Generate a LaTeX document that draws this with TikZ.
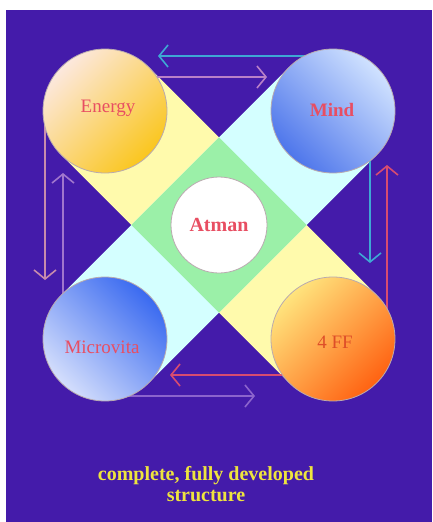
\documentclass[tikz,border=0pt]{standalone}
\usepackage{fontspec}
\setmainfont{Liberation Serif}
\usetikzlibrary{arrows.meta}
\definecolor{bgpurple}{RGB}{68,27,170}
\definecolor{bandyellow}{RGB}{255,250,172}
\definecolor{bandcyan}{RGB}{212,255,255}
\definecolor{bandgreen}{RGB}{155,240,168}
\definecolor{rimgray}{RGB}{185,170,175}
\definecolor{lblred}{RGB}{232,78,98}
\definecolor{lblorange}{RGB}{222,78,40}
\definecolor{capyellow}{RGB}{238,228,62}
\definecolor{arrcyan}{RGB}{62,168,212}
\definecolor{arrmauve}{RGB}{185,128,200}
\definecolor{arrred}{RGB}{216,76,112}
\definecolor{arrpink}{RGB}{200,140,172}
\definecolor{arrviolet}{RGB}{160,118,205}
\definecolor{arrlilac}{RGB}{140,100,205}
\begin{document}
\begin{tikzpicture}[x=1pt,y=-1pt,
  band/.style={line width=124pt},
  ball/.style={circle, minimum size=124pt, inner sep=0pt, draw=rimgray, line width=0.8pt},
  lbl/.style={font=\fontsize{19}{22}\selectfont, text=lblred},
  conn/.style={line width=1.6pt, -{Straight Barb[length=9pt,width=22pt]}}]
\useasboundingbox (0,0) rectangle (432,522);
\fill[white] (0,0) rectangle (432,522);
\fill[bgpurple] (6,10) rectangle (432,522);
% centres
\coordinate (pE) at (105,111);
\coordinate (pM) at (333,111);
\coordinate (pV) at (105,339);
\coordinate (pF) at (333,339);
\coordinate (pA) at (219,225);
% bands
\draw[band, bandyellow] (pE) -- (pF);
\draw[band, bandcyan] (pM) -- (pV);
\fill[bandgreen] (pA) ++(0,-87.68) -- ++(87.68,87.68) -- ++(-87.68,87.68) -- ++(-87.68,-87.68) -- cycle;
% arrow end points
\coordinate (a1s) at (312,56);  \coordinate (a1e) at (158,56);
\coordinate (a2s) at (150,77);  \coordinate (a2e) at (267,77);
\coordinate (a3s) at (370,150); \coordinate (a3e) at (370,263);
\coordinate (a4s) at (387,318); \coordinate (a4e) at (387,165);
\coordinate (a5s) at (290,375); \coordinate (a5e) at (170,375);
\coordinate (a6s) at (125,396); \coordinate (a6e) at (255,396);
\coordinate (a7s) at (45,120);  \coordinate (a7e) at (45,280);
\coordinate (a8s) at (63,300);  \coordinate (a8e) at (63,173);
\draw[conn, arrcyan] (a1s) -- (a1e);
\draw[conn, arrmauve] (a2s) -- (a2e);
\draw[conn, arrcyan] (a3s) -- (a3e);
\draw[conn, arrred] (a4s) -- (a4e);
\draw[conn, arrred] (a5s) -- (a5e);
\draw[conn, arrlilac] (a6s) -- (a6e);
\draw[conn, arrpink] (a7s) -- (a7e);
\draw[conn, arrviolet] (a8s) -- (a8e);
% circles
\node[ball, top color={rgb,255:red,252;green,232;blue,222}, bottom color={rgb,255:red,250;green,198;blue,30}, shading angle=45,
  label={[lbl, xshift=3pt, yshift=3pt, name=energytxt]center:Energy}] (energy) at (pE) {};
\node[ball, top color={rgb,255:red,208;green,226;blue,255}, bottom color={rgb,255:red,78;green,118;blue,235}, shading angle=-45,
  label={[lbl, font=\fontsize{19}{22}\selectfont\bfseries, xshift=-1pt, yshift=1pt, name=mindtxt]center:Mind}] (mind) at (pM) {};
\node[ball, top color={rgb,255:red,58;green,106;blue,240}, bottom color={rgb,255:red,212;green,222;blue,252}, shading angle=-45,
  label={[lbl, xshift=-3pt, yshift=-8pt, name=microtxt]center:Microvita}] (micro) at (pV) {};
\node[ball, top color={rgb,255:red,255;green,228;blue,125}, bottom color={rgb,255:red,255;green,98;blue,18}, shading angle=45,
  label={[lbl, text=lblorange, xshift=2pt, yshift=-3pt, name=fftxt]center:4 FF}] (ff) at (pF) {};
\node[circle, minimum size=96pt, inner sep=0pt, fill=white, draw=rimgray, line width=0.8pt,
  lbl, font=\fontsize{20}{22}\selectfont\bfseries] (atman) at (pA) {Atman};
% caption
\node[font=\fontsize{20}{21}\selectfont\bfseries, text=capyellow, align=center] (caption) at (206,484) {complete, fully developed\\structure};
\end{tikzpicture}
\end{document}
